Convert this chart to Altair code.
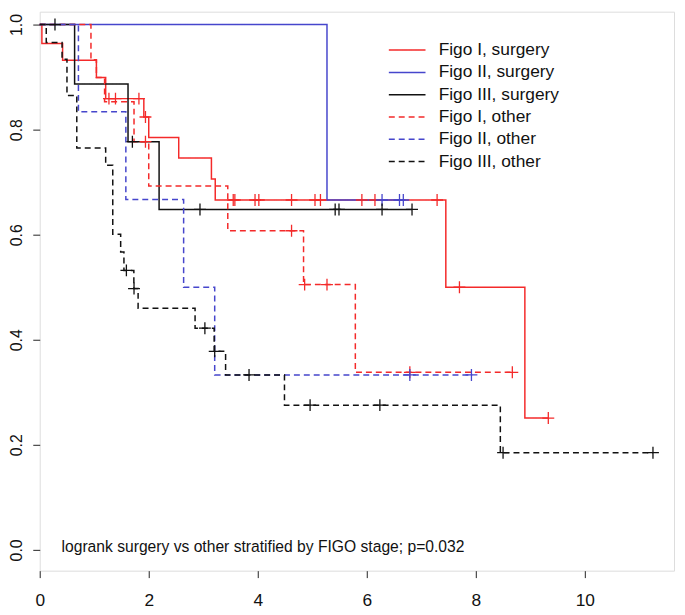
import altair as alt
import pandas as pd

# ---- series definitions -------------------------------------------------
groups = ["Figo I, surgery", "Figo II, surgery", "Figo III, surgery",
          "Figo I, other", "Figo II, other", "Figo III, other"]
colors = ["#f42a2a", "#4646cc", "#111111", "#f42a2a", "#4646cc", "#111111"]
dashes = [[1, 0], [1, 0], [1, 0], [6, 4], [6, 4], [6, 4]]

# Figo I, surgery (red solid)
t_I_surg = [0, 0.04, 0.42, 1.04, 1.21, 1.91, 2.0, 2.55, 3.15, 3.22, 7.45, 8.9, 9.33]
s_I_surg = [1.0, 0.964, 0.932, 0.899, 0.859, 0.824, 0.785, 0.746, 0.706, 0.666, 0.50, 0.251, 0.251]
ct_I_surg = [1.27, 1.39, 1.82, 1.94, 3.55, 3.58, 3.95, 4.02, 4.62, 5.05, 5.15, 5.91, 6.15, 7.29, 7.70, 9.33]
cs_I_surg = [0.859, 0.859, 0.859, 0.824, 0.666, 0.666, 0.666, 0.666, 0.666, 0.666, 0.666, 0.666, 0.666, 0.666, 0.50, 0.251]

# Figo II, surgery (blue solid)
t_II_surg = [0, 5.27, 6.67]
s_II_surg = [1.0, 0.666, 0.666]
ct_II_surg = [6.28, 6.60, 6.67]
cs_II_surg = [0.666, 0.666, 0.666]

# Figo III, surgery (black solid)
t_III_surg = [0, 0.64, 1.62, 2.19, 6.83]
s_III_surg = [1.0, 0.887, 0.777, 0.648, 0.648]
ct_III_surg = [0.28, 1.70, 2.94, 5.42, 5.49, 6.28, 6.83]
cs_III_surg = [1.0, 0.777, 0.648, 0.648, 0.648, 0.648, 0.648]

# Figo I, other (red dashed)
t_I_oth = [0, 0.94, 1.04, 1.19, 1.73, 2.0, 3.45, 4.84, 5.79, 8.67]
s_I_oth = [1.0, 0.933, 0.899, 0.853, 0.777, 0.6925, 0.6075, 0.505, 0.338, 0.338]
ct_I_oth = [1.94, 4.62, 4.86, 5.27, 6.79, 8.67]
cs_I_oth = [0.777, 0.6075, 0.505, 0.505, 0.338, 0.338]

# Figo II, other (blue dashed)
t_II_oth = [0, 0.71, 1.58, 2.64, 3.21, 7.94]
s_II_oth = [1.0, 0.834, 0.667, 0.50, 0.333, 0.333]
ct_II_oth = [6.79, 7.92]
cs_II_oth = [0.333, 0.333]

# Figo III, other (black dashed)
t_III_oth = [0, 0.12, 0.41, 0.50, 0.68, 1.21, 1.34, 1.485, 1.545, 1.727, 1.805,
             2.85, 3.20, 3.41, 4.49, 8.45, 11.25]
s_III_oth = [1.0, 0.966, 0.934, 0.865, 0.765, 0.732, 0.601, 0.567, 0.532, 0.4975, 0.46,
             0.422, 0.378, 0.333, 0.2755, 0.185, 0.185]
ct_III_oth = [1.59, 1.73, 3.03, 3.21, 3.84, 4.96, 6.24, 8.50, 11.25]
cs_III_oth = [0.532, 0.4975, 0.422, 0.378, 0.333, 0.2755, 0.2755, 0.185, 0.185]

annotation = ["logrank surgery vs other stratified by FIGO stage; p=0.032"]
x_ticks = [0, 2, 4, 6, 8, 10]
y_ticks = [0.0, 0.2, 0.4, 0.6, 0.8, 1.0]

# ---- build tables -------------------------------------------------------
curves = [(t_I_surg, s_I_surg), (t_II_surg, s_II_surg), (t_III_surg, s_III_surg),
          (t_I_oth, s_I_oth), (t_II_oth, s_II_oth), (t_III_oth, s_III_oth)]
censors = [(ct_I_surg, cs_I_surg), (ct_II_surg, cs_II_surg), (ct_III_surg, cs_III_surg),
           (ct_I_oth, cs_I_oth), (ct_II_oth, cs_II_oth), (ct_III_oth, cs_III_oth)]

line_rows, cens_rows = [], []
for g, (ts, ss) in zip(groups, curves):
    for i, (t, s) in enumerate(zip(ts, ss)):
        line_rows.append({"group": g, "t": t, "s": s, "i": i})
for g, (ts, ss) in zip(groups, censors):
    for t, s in zip(ts, ss):
        cens_rows.append({"group": g, "t": t, "s": s})
line_df = pd.DataFrame(line_rows)
cens_df = pd.DataFrame(cens_rows)
text_df = pd.DataFrame({"label": annotation, "t": [0.4], "s": [0.005]})

FONT = "Liberation Sans"
xscale = alt.Scale(domain=[0, 640 / 55], nice=False, zero=False)
yscale = alt.Scale(domain=[-0.0396, 1.0245], nice=False, zero=False)

xaxis = alt.Axis(values=x_ticks, title=None, grid=False, domain=False, tickSize=7,
                 tickColor="#222", labelFontSize=17.5, labelFont=FONT, labelColor="#111",
                 labelPadding=14, labelFlush=False)
yaxis = alt.Axis(values=y_ticks, title=None, grid=False, domain=False, tickSize=7,
                 tickColor="#222", format=".1f", labelFontSize=16, labelFont=FONT,
                 labelColor="#111", labelAngle=270, labelAlign="center",
                 labelBaseline="alphabetic", labelPadding=11)

legend = alt.Legend(title=None, orient="none", legendX=362, legendY=30,
                    symbolType="M-4,0L4,0", symbolSize=85.6, symbolStrokeWidth=1.5,
                    labelOffset=23, labelFontSize=17.5, labelFont=FONT, labelColor="#111",
                    rowPadding=3.5, padding=0, labelLimit=300)

lines = alt.Chart(line_df).mark_line(interpolate="step-after", strokeWidth=1.5).encode(
    x=alt.X("t:Q", scale=xscale, axis=xaxis),
    y=alt.Y("s:Q", scale=yscale, axis=yaxis),
    order="i:Q",
    color=alt.Color("group:N", scale=alt.Scale(domain=groups, range=colors), legend=legend),
    strokeDash=alt.StrokeDash("group:N", scale=alt.Scale(domain=groups, range=dashes),
                              legend=legend),
)

points = alt.Chart(cens_df).mark_point(
    shape="M-1,0L1,0M0,-1L0,1", size=144, filled=False, strokeWidth=1.3, opacity=1
).encode(
    x=alt.X("t:Q", scale=xscale),
    y=alt.Y("s:Q", scale=yscale),
    stroke=alt.Stroke("group:N", scale=alt.Scale(domain=groups, range=colors), legend=None),
)

text = alt.Chart(text_df).mark_text(align="left", baseline="middle", fontSize=15.8,
                                    font=FONT, color="#111").encode(
    x=alt.X("t:Q", scale=xscale),
    y=alt.Y("s:Q", scale=yscale),
    text="label:N",
)

chart = alt.layer(lines, points, text).properties(
    width=640, height=564,
    autosize=alt.AutoSizeParams(type="none"),
    padding={"left": 32, "top": 1, "right": 3, "bottom": 42},
).configure_view(stroke="#222", strokeWidth=1.3).configure(background="white")

chart.save("out.html", embed_options={"renderer": "svg", "actions": False})
